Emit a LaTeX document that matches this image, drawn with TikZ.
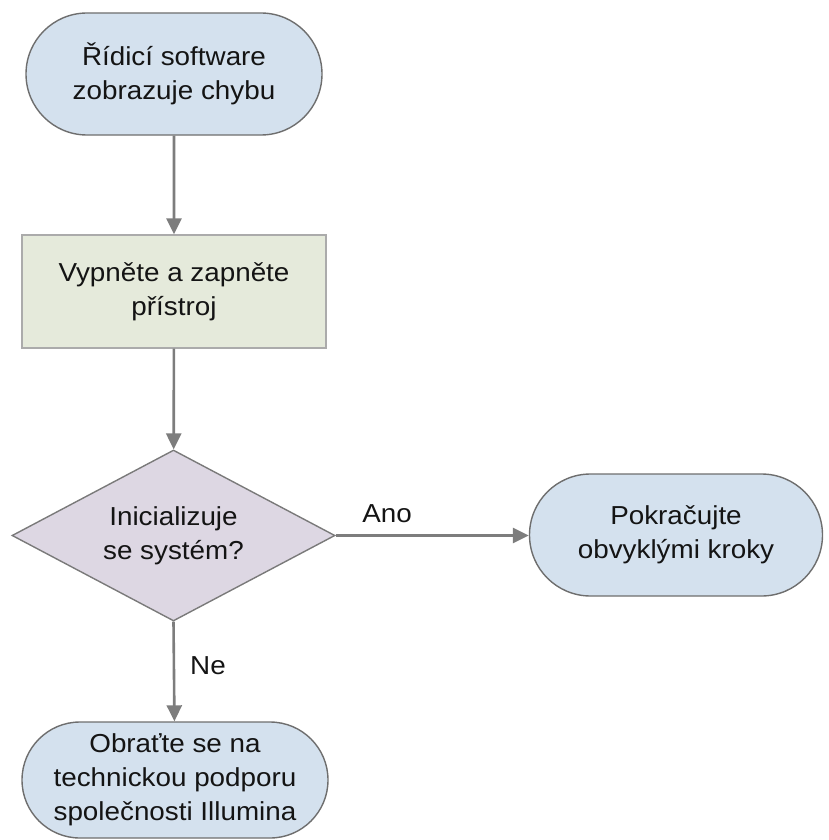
\documentclass[tikz,border=0pt]{standalone}
\usepackage{fontspec}
\setmainfont{Liberation Sans}[FakeStretch=1.07]
\usetikzlibrary{shapes.misc,shapes.geometric,arrows.meta}
\definecolor{termfill}{HTML}{D4E1EE}
\definecolor{termdraw}{HTML}{6E6E6E}
\definecolor{stepfill}{HTML}{E5EADB}
\definecolor{stepdraw}{HTML}{ABABAB}
\definecolor{decfill}{HTML}{DDD7E3}
\definecolor{decdraw}{HTML}{7A7A7A}
\definecolor{arrowgray}{HTML}{7D7D7D}
\definecolor{txt}{HTML}{141414}
\tikzset{
  base/.style={font=\fontsize{26}{34}\selectfont, text=txt, align=center, inner sep=0pt},
  terminal/.style={base, rounded rectangle, fill=termfill, draw=termdraw, line width=1.4pt},
  stepbox/.style={base, rectangle, fill=stepfill, draw=stepdraw, line width=1.4pt},
  decision/.style={base, diamond, aspect=1.89, fill=decfill, draw=decdraw, line width=1.4pt},
  conn/.style={draw=arrowgray, line width=2.6pt, -{Triangle[length=16pt,width=15pt]}},
  lbl/.style={font=\fontsize{26}{34}\selectfont, text=txt, inner sep=0pt}
}
\begin{document}
\begin{tikzpicture}[x=1pt,y=-1pt]
\useasboundingbox (0,0) rectangle (828,840);
\node[terminal, minimum width=296pt, minimum height=122pt] (start) at (174,74) {Řídicí software\\zobrazuje chybu};
\node[stepbox, minimum width=304pt, minimum height=113pt] (restart) at (174,291.5) {Vypněte a zapněte\\přístroj};
\node[decision, minimum width=323pt, minimum height=171pt] (dec) at (173.5,535.5) {Inicializuje\\se systém?};
\node[terminal, minimum width=293pt, minimum height=122pt] (cont) at (676,535) {Pokračujte\\obvyklými kroky};
\node[terminal, minimum width=306pt, minimum height=116pt] (support) at (175,780) {Obraťte se na\\technickou podporu\\společnosti Illumina};
\draw[conn] (start) -- (restart);
\draw[conn] (restart) -- (dec);
\draw[conn] (dec.east) -- (cont.west |- dec.east);
\draw[conn] (dec.south) -- (support);
\node[lbl, anchor=base] (ano) at (387,522) {Ano};
\node[lbl, anchor=base] (ne) at (208,674) {Ne};
\end{tikzpicture}
\end{document}
